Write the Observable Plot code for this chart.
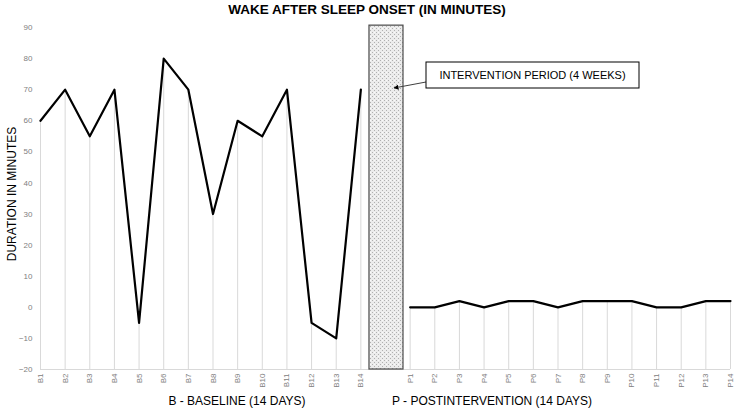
<!DOCTYPE html>
<html><head><meta charset="utf-8">
<script src="https://cdn.jsdelivr.net/npm/d3@7"></script>
<script src="https://cdn.jsdelivr.net/npm/@observablehq/plot@0.6"></script>
<style>body{margin:0;background:#fff}svg{font-family:"Liberation Sans",Arial,sans-serif}</style>
</head><body><div id="chart"></div>
<script>
const baselineLabels = ["B1","B2","B3","B4","B5","B6","B7","B8","B9","B10","B11","B12","B13","B14"];
const baselineValues = [60,70,55,70,-5,80,70,30,60,55,70,-5,-10,70];
const postLabels = ["P1","P2","P3","P4","P5","P6","P7","P8","P9","P10","P11","P12","P13","P14"];
const postValues = [0,0,2,0,2,2,0,2,2,2,0,0,2,2];
const yTicks = [-20,-10,0,10,20,30,40,50,60,70,80,90];

const B = baselineValues.map((v,i)=>({pos:i, label:baselineLabels[i], value:v}));
const P = postValues.map((v,i)=>({pos:i+15, label:postLabels[i], value:v}));
const all = B.concat(P);
const tickPos = all.map(d=>d.pos);
const labelOf = new Map(all.map(d=>[d.pos,d.label]));

const chart = Plot.plot({
  width: 738, height: 413,
  marginLeft: 40, marginRight: 8, marginTop: 27, marginBottom: 44,
  x: {domain: [0, 28]},
  y: {domain: [-20, 90]},
  style: {fontFamily: '"Liberation Sans",Arial,sans-serif', background: "#fff"},
  marks: [
    Plot.ruleY([-20], {stroke: "#d9d9d9", strokeWidth: 1}),
    Plot.ruleX(all, {x: "pos", y1: -20, y2: "value", stroke: "#d9d9d9", strokeWidth: 1}),
    Plot.rect([{x1: 13.35, x2: 14.73, y1: -20, y2: 90.6}], {x1: "x1", x2: "x2", y1: "y1", y2: "y2", fill: "url(#hatch)", stroke: "#4a4a4a", strokeWidth: 1.2}),
    Plot.line(B, {x: "pos", y: "value", stroke: "#000", strokeWidth: 2.2}),
    Plot.line(P, {x: "pos", y: "value", stroke: "#000", strokeWidth: 2.2}),
    Plot.axisY({ticks: yTicks, tickSize: 0, tickPadding: 8, label: null, fontSize: 8, color: "#808080"}),
    Plot.axisX({ticks: tickPos, tickFormat: d=>labelOf.get(d), tickSize: 0, tickPadding: 4, tickRotate: -90, label: null, fontSize: 8, color: "#808080"})
  ]
});
document.getElementById("chart").appendChild(chart);

const svg = d3.select(chart);
const defs = svg.insert("defs", ":first-child");
const pat = defs.append("pattern").attr("id","hatch").attr("patternUnits","userSpaceOnUse").attr("width",4).attr("height",4);
pat.append("rect").attr("width",4).attr("height",4).attr("fill","#ececec");
pat.append("rect").attr("x",0).attr("y",0).attr("width",1).attr("height",1).attr("fill","#b0b0b0");
pat.append("rect").attr("x",2).attr("y",2).attr("width",1).attr("height",1).attr("fill","#b0b0b0");
pat.append("rect").attr("x",2).attr("y",0).attr("width",1).attr("height",1).attr("fill","#fafafa");
const mk = defs.append("marker").attr("id","arr").attr("viewBox","0 0 10 10").attr("refX",9).attr("refY",5)
  .attr("markerWidth",5).attr("markerHeight",5).attr("orient","auto");
mk.append("path").attr("d","M0,0L10,5L0,10z").attr("fill","#000");

svg.append("text").attr("x",367).attr("y",14).attr("text-anchor","middle").attr("font-weight","bold").attr("font-size",13.5).attr("fill","#000").text("WAKE AFTER SLEEP ONSET (IN MINUTES)");
svg.append("text").attr("transform","translate(16,194) rotate(-90)").attr("text-anchor","middle").attr("font-size",12).attr("fill","#000").text("DURATION IN MINUTES");
svg.append("text").attr("x",237).attr("y",405).attr("text-anchor","middle").attr("font-size",12).attr("fill","#000").text("B - BASELINE (14 DAYS)");
svg.append("text").attr("x",492).attr("y",405).attr("text-anchor","middle").attr("font-size",12).attr("fill","#000").text("P - POSTINTERVENTION (14 DAYS)");

svg.append("line").attr("x1",426).attr("y1",82).attr("x2",394).attr("y2",88).attr("stroke","#404040").attr("stroke-width",1).attr("marker-end","url(#arr)");
svg.append("rect").attr("x",426).attr("y",62).attr("width",213).attr("height",26).attr("fill","#fff").attr("stroke","#000").attr("stroke-width",1);
svg.append("text").attr("x",532.5).attr("y",79).attr("text-anchor","middle").attr("font-size",11).attr("fill","#000").text("INTERVENTION PERIOD (4 WEEKS)");
</script></body></html>
